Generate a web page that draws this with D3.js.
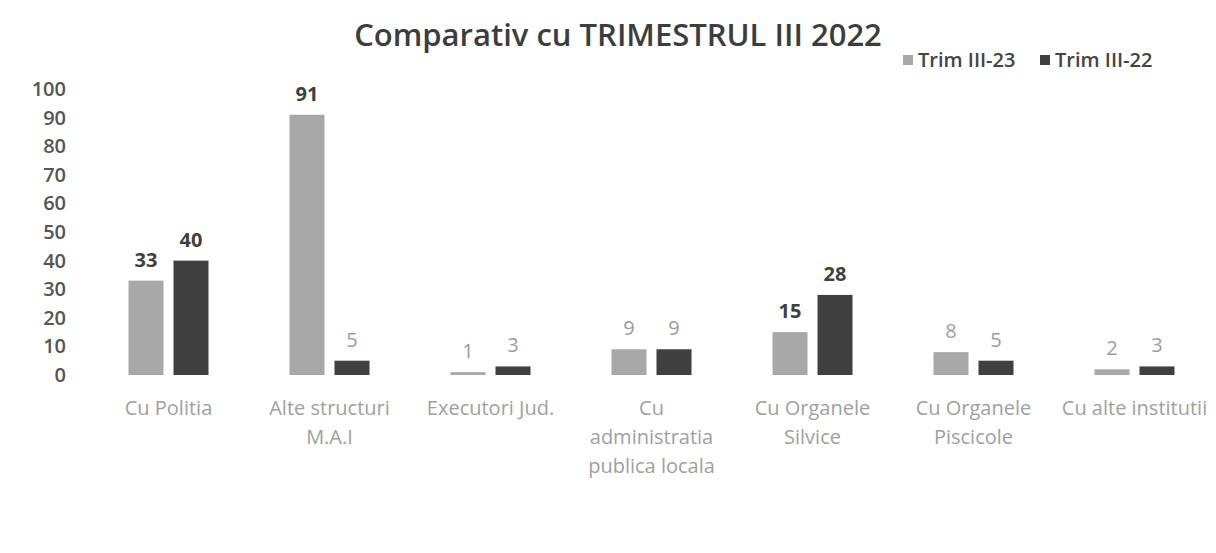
<!DOCTYPE html>
<html>
<head>
<meta charset="utf-8">
<script src="https://cdn.jsdelivr.net/npm/d3@7"></script>
<style>
  body { margin: 0; background: #fff; }
  svg { font-family: 'Open Sans', sans-serif; }
</style>
</head>
<body>
<svg width="1216" height="553"></svg>
<script>
var svg = d3.select('svg');
var categories = [
  ['Cu Politia'],
  ['Alte structuri', 'M.A.I'],
  ['Executori Jud.'],
  ['Cu', 'administratia', 'publica locala'],
  ['Cu Organele', 'Silvice'],
  ['Cu Organele', 'Piscicole'],
  ['Cu alte institutii']
];
var seriesNames = ['Trim III-23', 'Trim III-22'];
var trim23 = [33, 91, 1, 9, 15, 8, 2];
var trim22 = [40, 5, 3, 9, 28, 5, 3];
var yTicks = [0, 10, 20, 30, 40, 50, 60, 70, 80, 90, 100];
var colors = ['#a8a8a8', '#404040'];

var left = 88, right = 1215;
var baseline = 375, plotTop = 89;

var xScale = d3.scaleBand()
  .domain(d3.range(categories.length))
  .range([left, right]);
var yScale = d3.scaleLinear()
  .domain([0, 100])
  .range([baseline, plotTop]);

// title
svg.append('text')
  .attr('x', 618).attr('y', 46)
  .attr('text-anchor', 'middle')
  .attr('font-size', 31)
  .attr('font-weight', 600)
  .attr('fill', '#3d3d3d')
  .text('Comparativ cu TRIMESTRUL III 2022');

// y axis labels only, no line
var yAxis = d3.axisLeft(yScale).tickValues(yTicks).tickSize(0).tickPadding(0);
var yAxisGroup = svg.append('g')
  .attr('transform', 'translate(66,0)')
  .call(yAxis);
yAxisGroup.select('.domain').remove();
yAxisGroup.selectAll('text')
  .attr('font-size', 20)
  .attr('font-weight', 600)
  .attr('font-family', "'Open Sans', sans-serif")
  .attr('fill', '#555');

// bars
var barWidth = 35, gap = 10;
var data = [trim23, trim22];
data.forEach(function(series, s) {
  svg.append('g').selectAll('rect').data(series).enter().append('rect')
    .attr('x', function(d, i) {
      var center = xScale(i) + xScale.bandwidth() / 2;
      return s === 0 ? center - gap / 2 - barWidth : center + gap / 2;
    })
    .attr('y', function(d) { return yScale(d); })
    .attr('width', barWidth)
    .attr('height', function(d) { return Math.max(baseline - yScale(d), 1); })
    .attr('fill', colors[s]);

  // value labels: big ones dark, small ones light
  svg.append('g').selectAll('text').data(series).enter().append('text')
    .attr('x', function(d, i) {
      var center = xScale(i) + xScale.bandwidth() / 2;
      return s === 0 ? center - gap / 2 - barWidth / 2 : center + gap / 2 + barWidth / 2;
    })
    .attr('y', function(d) { return yScale(d) - 14; })
    .attr('text-anchor', 'middle')
    .attr('font-size', 20)
    .attr('font-weight', function(d) { return d >= 10 ? 'bold' : 'normal'; })
    .attr('fill', function(d) { return d >= 10 ? '#404040' : '#9c9c9c'; })
    .text(function(d) { return d; });
});

// category labels
var catGroup = svg.append('g');
categories.forEach(function(lines, i) {
  var t = catGroup.append('text')
    .attr('x', xScale(i) + xScale.bandwidth() / 2)
    .attr('y', 415)
    .attr('text-anchor', 'middle')
    .attr('font-size', 20)
    .attr('fill', '#a0a0a0');
  lines.forEach(function(line, j) {
    t.append('tspan')
      .attr('x', xScale(i) + xScale.bandwidth() / 2)
      .attr('dy', j === 0 ? 0 : 29)
      .text(line);
  });
});

// legend
var legendX = [903, 1040];
seriesNames.forEach(function(name, s) {
  svg.append('rect')
    .attr('x', legendX[s]).attr('y', 55)
    .attr('width', 10).attr('height', 10)
    .attr('fill', colors[s]);
  svg.append('text')
    .attr('x', legendX[s] + 15).attr('y', 67)
    .attr('font-size', 20)
    .attr('font-weight', 600)
    .attr('fill', '#444')
    .text(name);
});
</script>
</body>
</html>
